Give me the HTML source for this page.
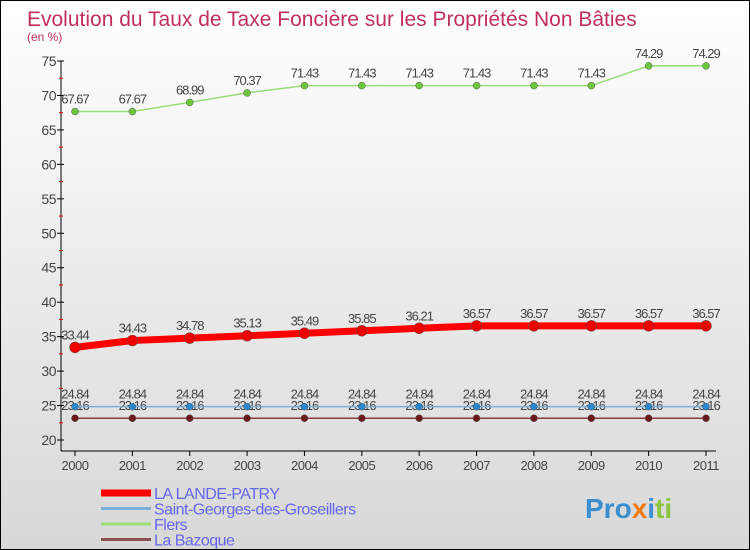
<!DOCTYPE html>
<html><head><meta charset="utf-8"><style>
body{margin:0}
#c{position:relative;width:748px;height:548px;border:1px solid #000;background:linear-gradient(#fff,#d8d8d8);font-family:"Liberation Sans",sans-serif;overflow:hidden}
</style></head><body>
<div id="c">
<svg id="s" width="748" height="548">
<text x="26" y="25" font-size="21" fill="#c0305a">Evolution du Taux de Taxe Foncière sur les Propriétés Non Bâties</text>
<text x="26" y="40" font-size="12" fill="#c0305a">(en %)</text>
<g id="g"></g>
<text x="584" y="517" font-size="28" font-weight="bold" fill="#3a8fd0">Pro<tspan fill="#f07a10">x</tspan><tspan fill="#3a8fd0">i</tspan><tspan fill="#8cc63f">ti</tspan></text>
</svg></div>
<script>
const years=[2000,2001,2002,2003,2004,2005,2006,2007,2008,2009,2010,2011];
const yTicks=[20,25,30,35,40,45,50,55,60,65,70,75];
const seriesNames=["LA LANDE-PATRY","Saint-Georges-des-Groseillers","Flers","La Bazoque"];
const lande=[33.44,34.43,34.78,35.13,35.49,35.85,36.21,36.57,36.57,36.57,36.57,36.57];
const stgeorges=[24.84,24.84,24.84,24.84,24.84,24.84,24.84,24.84,24.84,24.84,24.84,24.84];
const flers=[67.67,67.67,68.99,70.37,71.43,71.43,71.43,71.43,71.43,71.43,74.29,74.29];
const bazoque=[23.16,23.16,23.16,23.16,23.16,23.16,23.16,23.16,23.16,23.16,23.16,23.16];
const g=document.getElementById('g');const NS="http://www.w3.org/2000/svg";
function X(i){return 74+i*(705-74)/(years.length-1);}
function Y(v){return 439-(v-20)*(379/55);}
function el(t,a,p){const e=document.createElementNS(NS,t);for(const k in a)e.setAttribute(k,a[k]);(p||g).appendChild(e);return e;}
let ax=el('line',{x1:60,y1:60,x2:60,y2:450,stroke:'#000'});


let xa=el('line',{x1:60,y1:450,x2:715,y2:450,stroke:'#000'});


yTicks.forEach(v=>{el('line',{x1:56,y1:Y(v),x2:63,y2:Y(v),stroke:'#000'});
let t=el('text',{x:55,y:Y(v)+5,'font-size':14,fill:'#444','text-anchor':'end','letter-spacing':'-0.5'});t.textContent=v;


if(v<75)el('line',{x1:58,y1:Y(v+2.5),x2:62,y2:Y(v+2.5),stroke:'#e00'});});
years.forEach((y,i)=>{el('line',{x1:X(i),y1:450,x2:X(i),y2:455,stroke:'#000'});
let t=el('text',{x:X(i),y:469,'font-size':13,fill:'#444','text-anchor':'middle','letter-spacing':'-0.5'});t.textContent=y;

});
const specs=[[flers,'#98dd78','#6ec63f',1.5,3.5,'flers'],[bazoque,'#8b3a3a','#6a1a1a',1.5,3.5,'la-bazoque'],[stgeorges,'#7ab0d8','#2a88d0',1.5,3.5,'saint-georges'],[lande,'#f00','#e00',7,5.5,'la-lande-patry']];
specs.forEach(([d,lc,pc,w,r,n])=>{
let p=el('polyline',{points:d.map((v,i)=>X(i)+','+Y(v)).join(' '),fill:'none',stroke:lc,'stroke-width':w});


d.forEach((v,i)=>{let c=el('circle',{cx:X(i),cy:Y(v),r:r,fill:pc,stroke:'#555','stroke-width':0.5});


let t=el('text',{x:X(i),y:Y(v)-8,'font-size':13,fill:'#444','text-anchor':'middle','letter-spacing':'-1'});t.textContent=v.toFixed(2).replace(/0$/,'');

});});
const lc=['#f00','#7ab0d8','#98dd78','#8b5050'];
seriesNames.forEach((s,i)=>{const y=492+i*15.5;
let l=el('line',{x1:100,y1:y,x2:150,y2:y,stroke:lc[i],'stroke-width':i==0?7:3});


let t=el('text',{x:153,y:y+6,'font-size':16,fill:'#6666ee','letter-spacing':'-0.5'});t.textContent=s;

});
</script></body></html>
